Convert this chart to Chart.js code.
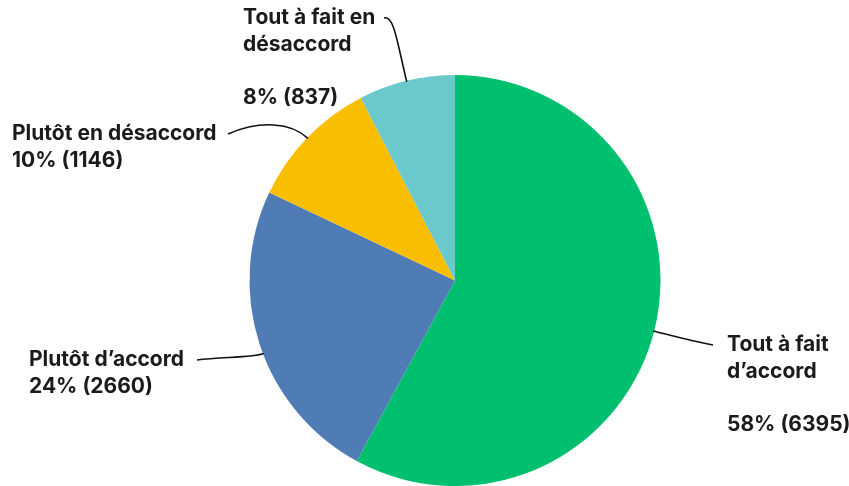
<!DOCTYPE html>
<html>
<head>
<meta charset="utf-8">
<script src="https://cdn.jsdelivr.net/npm/chart.js@4.4.1/dist/chart.umd.min.js"></script>
<style>
  html, body { margin: 0; padding: 0; background: #ffffff; }
  #wrap { position: relative; width: 849px; height: 486px; }
</style>
</head>
<body>
<div id="wrap"><canvas id="c" width="849" height="486"></canvas></div>
<script>
// ---- data ----
const categories = ['Tout à fait d’accord', 'Plutôt d’accord', 'Plutôt en désaccord', 'Tout à fait en désaccord'];
const counts = [6395, 2660, 1146, 837];
const percents = [58, 24, 10, 8];
const colors = ['#00BF6F', '#507CB6', '#F9BE00', '#6BC8CD'];

// ---- label layout (positions/styles only) ----
const labelLayout = [
  { x: 727, y: 345, maxW: 125, gap: true,  end: [713, 345], c1: 22, c2: [-22, -4], da: 0 },
  { x: 29,  y: 360, maxW: 250, gap: false, end: [197, 360], c1: 10, c2: [26, -3],  da: -0.05 },
  { x: 12,  y: 134, maxW: 260, gap: false, end: [228, 134], c1: 22, c2: [32, -14], da: 0 },
  { x: 243, y: 18,  maxW: 160, gap: true,  end: [384, 18],  c1: 40, c2: [10, -3],  da: 0 }
];
const FONT = 'bold 21px Inter, "Open Sans", sans-serif';
const LINE_H = 26.5;

function wrap(ctx, text, maxW) {
  const words = text.split(' ');
  const lines = [];
  let cur = '';
  for (const w of words) {
    const t = cur ? cur + ' ' + w : w;
    if (ctx.measureText(t).width > maxW && cur) { lines.push(cur); cur = w; }
    else cur = t;
  }
  if (cur) lines.push(cur);
  return lines;
}

const labelsPlugin = {
  id: 'pieLabels',
  afterDatasetsDraw(chart) {
    const ctx = chart.ctx;
    const meta = chart.getDatasetMeta(0);
    ctx.save();
    ctx.font = FONT;
    ctx.fillStyle = '#1b1b1b';
    ctx.textBaseline = 'middle';
    ctx.textAlign = 'left';
    meta.data.forEach((arc, i) => {
      const L = labelLayout[i];
      const p = arc.getProps(['x', 'y', 'startAngle', 'endAngle', 'outerRadius'], true);
      const mid = (p.startAngle + p.endAngle) / 2 + L.da;
      const ax = p.x + Math.cos(mid) * (p.outerRadius - 1);
      const ay = p.y + Math.sin(mid) * (p.outerRadius - 1);
      const c1x = p.x + Math.cos(mid) * (p.outerRadius + L.c1);
      const c1y = p.y + Math.sin(mid) * (p.outerRadius + L.c1);
      ctx.beginPath();
      ctx.strokeStyle = '#111111';
      ctx.lineWidth = 1.6;
      ctx.moveTo(ax, ay);
      ctx.bezierCurveTo(c1x, c1y, L.end[0] + L.c2[0], L.end[1] + L.c2[1], L.end[0], L.end[1]);
      ctx.stroke();

      const lines = wrap(ctx, categories[i], L.maxW);
      if (L.gap) lines.push('');
      lines.push(percents[i] + '% (' + counts[i] + ')');
      lines.forEach((ln, k) => ctx.fillText(ln, L.x, L.y + k * LINE_H));
    });
    ctx.restore();
  }
};

new Chart(document.getElementById('c'), {
  type: 'pie',
  data: {
    labels: categories,
    datasets: [{
      data: counts,
      backgroundColor: colors,
      borderWidth: 0,
      hoverOffset: 0
    }]
  },
  options: {
    responsive: false,
    animation: false,
    layout: { padding: { top: 75, bottom: -1, left: 249, right: 188 } },
    plugins: { legend: { display: false }, tooltip: { enabled: false } }
  },
  plugins: [labelsPlugin]
});
</script>
</body>
</html>
